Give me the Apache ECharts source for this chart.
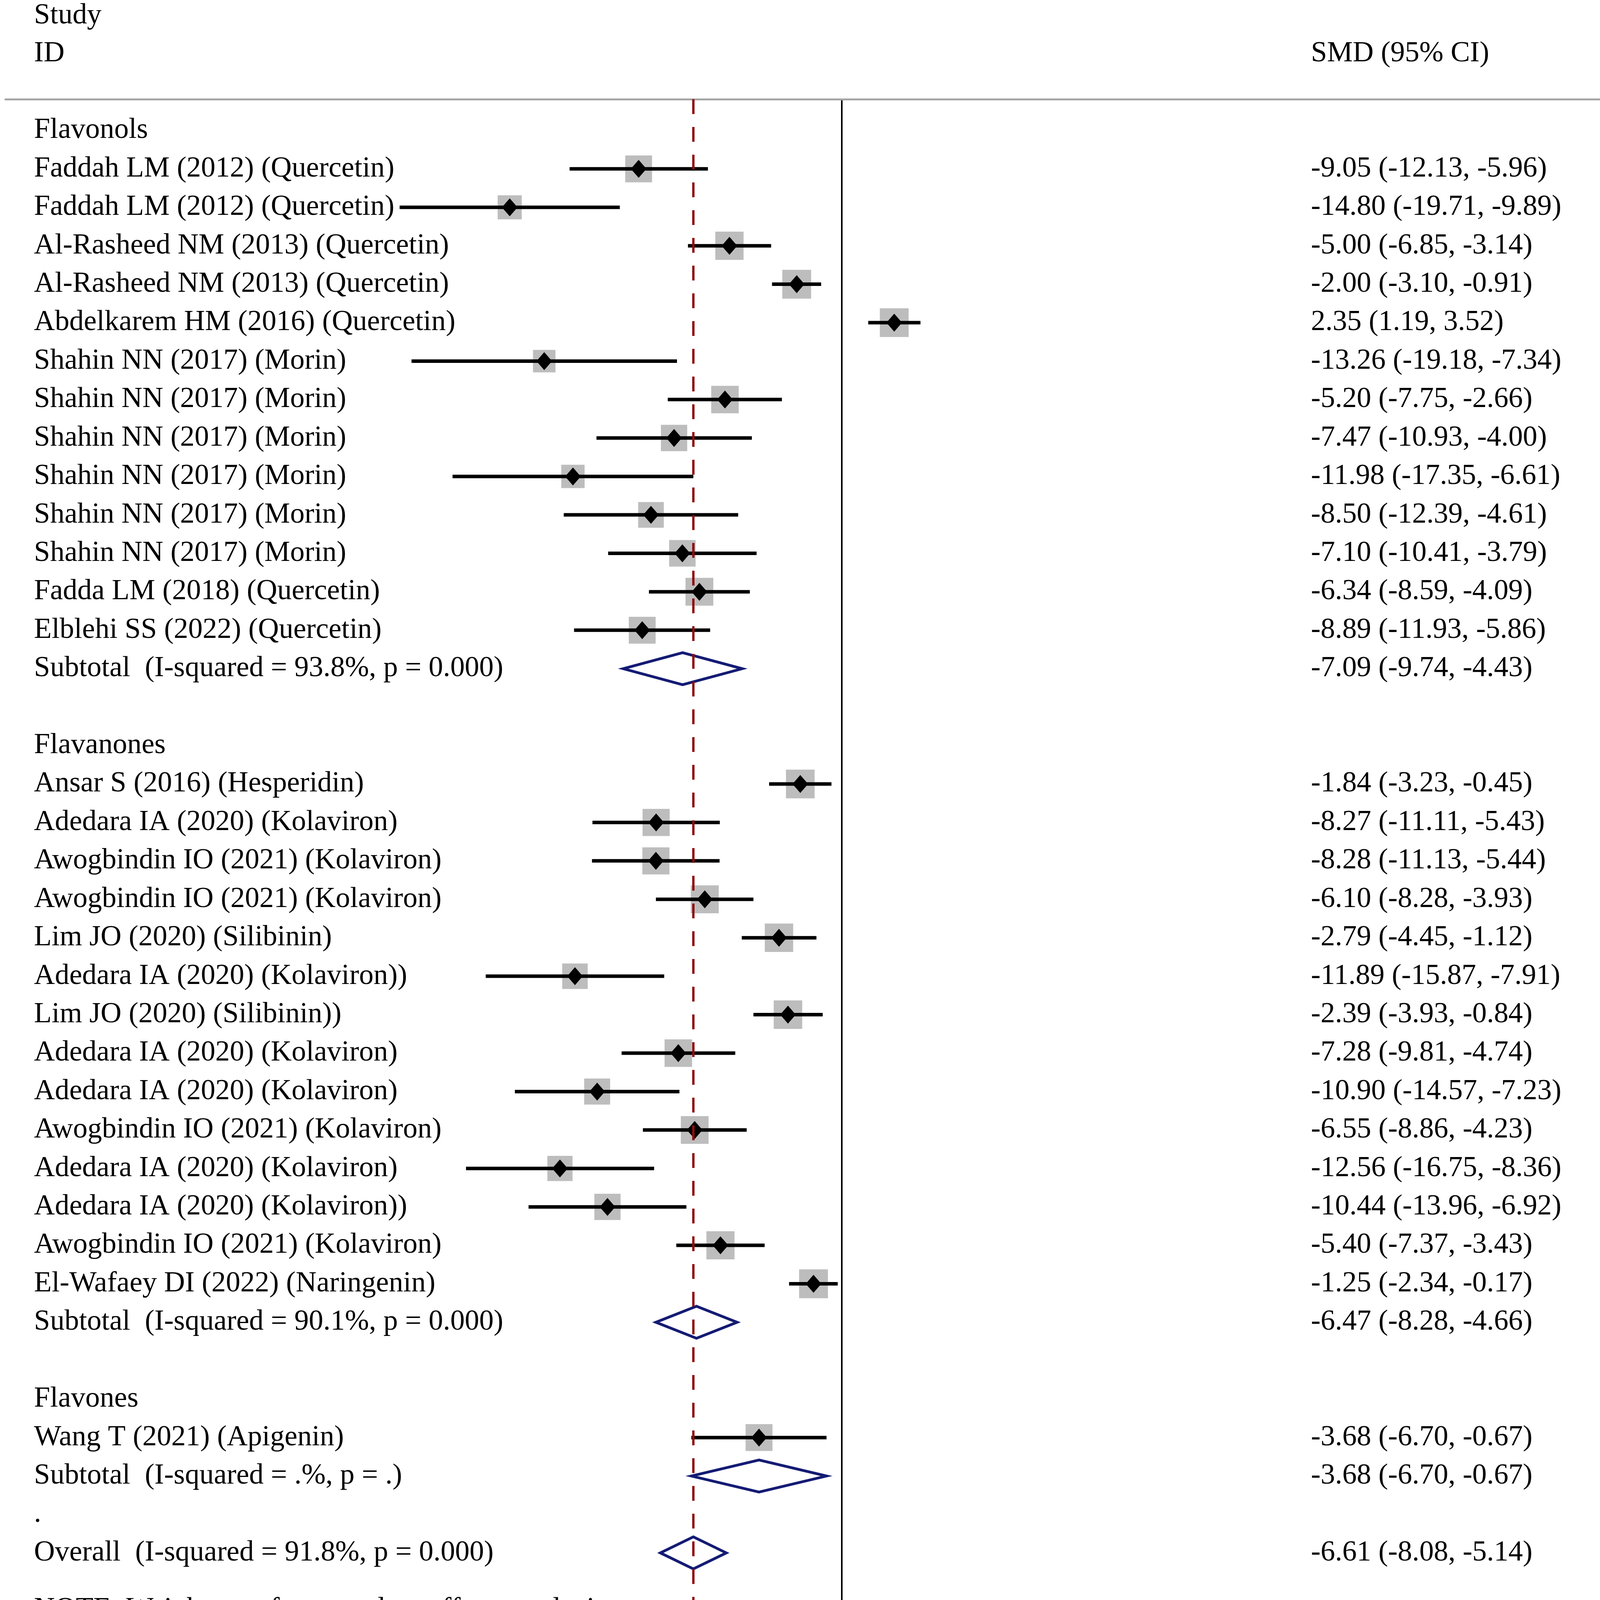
<!DOCTYPE html>
<html lang="en">
<head>
    <meta charset="UTF-8">
    <title>Forest plot</title>
    <script src="https://cdn.jsdelivr.net/npm/echarts@6/dist/echarts.min.js"></script>
    <style>
        body { margin: 0; background: #fff; }
    </style>
</head>
<body>
<div id="main" style="width: 4550px;height: 4354px;"></div>
<script type="text/javascript">
    // group names, study labels, [SMD, lower, upper], % weight
    var groupNames = ['Flavonols', 'Flavanones', 'Flavones'];

    var flavonolStudies = [
        'Faddah LM (2012) (Quercetin)', 'Faddah LM (2012) (Quercetin)',
        'Al-Rasheed NM (2013) (Quercetin)', 'Al-Rasheed NM (2013) (Quercetin)',
        'Abdelkarem HM (2016) (Quercetin)', 'Shahin NN (2017) (Morin)',
        'Shahin NN (2017) (Morin)', 'Shahin NN (2017) (Morin)',
        'Shahin NN (2017) (Morin)', 'Shahin NN (2017) (Morin)',
        'Shahin NN (2017) (Morin)', 'Fadda LM (2018) (Quercetin)',
        'Elblehi SS (2022) (Quercetin)'
    ];
    var flavonolSmd = [
        [-9.05, -12.13, -5.96], [-14.80, -19.71, -9.89], [-5.00, -6.85, -3.14],
        [-2.00, -3.10, -0.91], [2.35, 1.19, 3.52], [-13.26, -19.18, -7.34],
        [-5.20, -7.75, -2.66], [-7.47, -10.93, -4.00], [-11.98, -17.35, -6.61],
        [-8.50, -12.39, -4.61], [-7.10, -10.41, -3.79], [-6.34, -8.59, -4.09],
        [-8.89, -11.93, -5.86]
    ];
    var flavonolWeight = [3.54, 2.85, 3.93, 4.09, 4.08, 2.49, 3.72, 3.40, 2.68, 3.24, 3.45, 3.81, 3.55];

    var flavanoneStudies = [
        'Ansar S (2016) (Hesperidin)', 'Adedara IA (2020) (Kolaviron)',
        'Awogbindin IO (2021) (Kolaviron)', 'Awogbindin IO (2021) (Kolaviron)',
        'Lim JO (2020) (Silibinin)', 'Adedara IA (2020) (Kolaviron))',
        'Lim JO (2020) (Silibinin))', 'Adedara IA (2020) (Kolaviron)',
        'Adedara IA (2020) (Kolaviron)', 'Awogbindin IO (2021) (Kolaviron)',
        'Adedara IA (2020) (Kolaviron)', 'Adedara IA (2020) (Kolaviron))',
        'Awogbindin IO (2021) (Kolaviron)', 'El-Wafaey DI (2022) (Naringenin)'
    ];
    var flavanoneSmd = [
        [-1.84, -3.23, -0.45], [-8.27, -11.11, -5.43], [-8.28, -11.13, -5.44],
        [-6.10, -8.28, -3.93], [-2.79, -4.45, -1.12], [-11.89, -15.87, -7.91],
        [-2.39, -3.93, -0.84], [-7.28, -9.81, -4.74], [-10.90, -14.57, -7.23],
        [-6.55, -8.86, -4.23], [-12.56, -16.75, -8.36], [-10.44, -13.96, -6.92],
        [-5.40, -7.37, -3.43], [-1.25, -2.34, -0.17]
    ];
    var flavanoneWeight = [4.04, 3.62, 3.62, 3.83, 3.97, 3.20, 4.00, 3.72, 3.32, 3.79, 3.12, 3.38, 3.89, 4.09];

    var flavoneStudies = ['Wang T (2021) (Apigenin)'];
    var flavoneSmd = [[-3.68, -6.70, -0.67]];
    var flavoneWeight = [3.56];

    var subtotalLabels = [
        'Subtotal  (I-squared = 93.8%, p = 0.000)',
        'Subtotal  (I-squared = 90.1%, p = 0.000)',
        'Subtotal  (I-squared = .%, p = .)'
    ];
    var subtotalSmd = [[-7.09, -9.74, -4.43], [-6.47, -8.28, -4.66], [-3.68, -6.70, -0.67]];
    var subtotalWeight = [44.83, 51.61, 3.56];

    var overallLabel = 'Overall  (I-squared = 91.8%, p = 0.000)';
    var overallSmd = [-6.61, -8.08, -5.14];
    var overallWeight = 100.00;

    var noteText = 'NOTE: Weights are from random effects analysis';
    var axisTicks = [-19.7, 0, 19.7];

    var groupStudies = [flavonolStudies, flavanoneStudies, flavoneStudies];
    var groupSmd = [flavonolSmd, flavanoneSmd, flavoneSmd];
    var groupWeight = [flavonolWeight, flavanoneWeight, flavoneWeight];

    function fmt(v) { return v.toFixed(2); }
    function ciText(s) { return fmt(s[0]) + ' (' + fmt(s[1]) + ', ' + fmt(s[2]) + ')'; }

    // build table rows
    var textRows = [];
    var studyRows = [];
    var pooledRows = [];
    textRows.push([-2.98, 'Study', '', '%']);
    textRows.push([-2.0, 'ID', 'SMD (95% CI)', 'Weight']);
    var r = 0;
    for (var g = 0; g < groupNames.length; g++) {
        textRows.push([r, groupNames[g], '', '']);
        r++;
        for (var i = 0; i < groupStudies[g].length; i++) {
            var s = groupSmd[g][i];
            textRows.push([r, groupStudies[g][i], ciText(s), fmt(groupWeight[g][i])]);
            studyRows.push([s[0], s[1], s[2], r, groupWeight[g][i]]);
            r++;
        }
        textRows.push([r, subtotalLabels[g], ciText(subtotalSmd[g]), fmt(subtotalWeight[g])]);
        pooledRows.push([subtotalSmd[g][1], subtotalSmd[g][0], subtotalSmd[g][2], r]);
        r++;
        r++;
    }
    textRows.push([r - 1, '.', '', '']);
    textRows.push([r, overallLabel, ciText(overallSmd), fmt(overallWeight)]);
    pooledRows.push([overallSmd[1], overallSmd[0], overallSmd[2], r]);
    textRows.push([r + 1.47, noteText, '', '']);

    var FONT = '"Liberation Serif", "Times New Roman", serif';
    var FS = 74;
    var colX = [87, 3356, 4188];

    var myChart = echarts.init(document.getElementById('main'));

    var option = {
        backgroundColor: '#ffffff',
        animation: false,
        textStyle: { fontFamily: FONT },
        grid: { left: 14, right: 28, top: 254, bottom: 192 },
        xAxis: [{
            type: 'value',
            position: 'bottom',
            min: -37.29,
            max: 41.25,
            axisLine: { show: true, onZero: false, lineStyle: { color: '#000', width: 6 } },
            axisTick: { show: true, customValues: axisTicks, length: 74, lineStyle: { color: '#000', width: 3 } },
            axisLabel: {
                customValues: axisTicks,
                margin: 110,
                fontSize: FS,
                fontFamily: FONT,
                color: '#000',
                formatter: function (v) { return v === 0 ? '0' : v.toFixed(1); }
            },
            splitLine: { show: false }
        }, {
            type: 'value',
            position: 'top',
            min: -37.29,
            max: 41.25,
            axisLine: { show: true, onZero: false, lineStyle: { color: '#a6a6a6', width: 5 } },
            axisTick: { show: false },
            axisLabel: { show: false },
            splitLine: { show: false }
        }],
        yAxis: {
            type: 'value',
            inverse: true,
            min: -0.812,
            max: 38.896,
            axisLine: { show: true, onZero: true, onZeroAxisIndex: 0, lineStyle: { color: '#000', width: 4 } },
            axisTick: { show: false },
            axisLabel: { show: false },
            splitLine: { show: false }
        },
        series: [{
            // weight squares
            type: 'scatter',
            symbol: 'rect',
            data: studyRows.map(function (d) { return [d[0], d[3], d[4]]; }),
            symbolSize: function (d) { return 36.5 * Math.sqrt(d[2]); },
            itemStyle: { color: '#bdbdbd', opacity: 1 },
            z: 2
        }, {
            // confidence interval lines
            type: 'custom',
            data: studyRows.map(function (d) { return [d[1], d[2], d[3]]; }),
            renderItem: function (params, api) {
                var a = api.coord([api.value(0), api.value(2)]);
                var b = api.coord([api.value(1), api.value(2)]);
                return {
                    type: 'line',
                    shape: { x1: a[0], y1: a[1], x2: b[0], y2: b[1] },
                    style: { stroke: '#000', lineWidth: 9 }
                };
            },
            z: 3,
            markLine: {
                silent: true,
                symbol: 'none',
                label: { show: false },
                lineStyle: { color: '#8e0d0d', width: 6, type: [38, 33] },
                data: [{ xAxis: overallSmd[0] }],
                z: 10
            }
        }, {
            // point estimates
            type: 'scatter',
            symbol: 'diamond',
            symbolSize: [40, 46],
            data: studyRows.map(function (d) { return [d[0], d[3]]; }),
            itemStyle: { color: '#000', opacity: 1 },
            z: 4
        }, {
            // pooled diamonds
            type: 'custom',
            data: pooledRows,
            renderItem: function (params, api) {
                var row = api.value(3);
                var l = api.coord([api.value(0), row]);
                var m = api.coord([api.value(1), row]);
                var h = api.coord([api.value(2), row]);
                var hh = 41;
                return {
                    type: 'polygon',
                    shape: { points: [[l[0], l[1]], [m[0], m[1] - hh], [h[0], h[1]], [m[0], m[1] + hh]] },
                    style: { fill: 'none', stroke: '#141b74', lineWidth: 7 }
                };
            },
            z: 5
        }, {
            // table text
            type: 'custom',
            clip: false,
            data: textRows.map(function (t, idx) { return [0, t[0], idx]; }),
            renderItem: function (params, api) {
                var t = textRows[api.value(2)];
                var y = api.coord([0, api.value(1)])[1];
                var kids = [];
                for (var c = 0; c < 3; c++) {
                    if (!t[c + 1]) continue;
                    kids.push({
                        type: 'text',
                        style: {
                            text: t[c + 1], x: colX[c], y: y,
                            fill: '#000', fontSize: FS, fontFamily: FONT,
                            align: 'left', verticalAlign: 'middle'
                        }
                    });
                }
                return { type: 'group', children: kids };
            },
            z: 6
        }]
    };
    myChart.setOption(option);
</script>
</body>
</html>
